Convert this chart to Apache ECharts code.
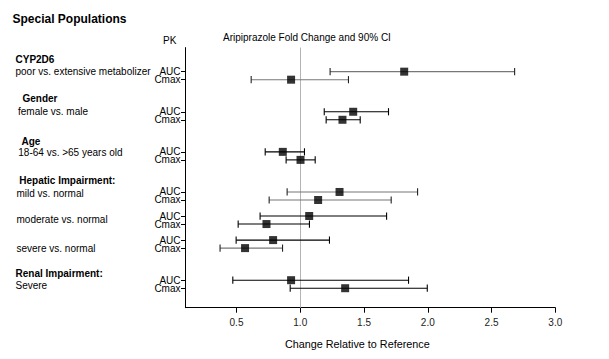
<!DOCTYPE html>
<html>
<head>
<meta charset="utf-8">
<script src="https://cdn.jsdelivr.net/npm/echarts@6/dist/echarts.min.js"></script>
<style>
html,body{margin:0;padding:0;background:#fff;}
#chart{width:609px;height:359px;}
</style>
</head>
<body>
<div id="chart"></div>
<script>
// ---- data ----
const groups = ['CYP2D6', 'Gender', 'Age', 'Hepatic Impairment:', 'Renal Impairment:'];
const comparisons = ['poor vs. extensive metabolizer', 'female vs. male', '18-64 vs. >65 years old',
  'mild vs. normal', 'moderate vs. normal', 'severe vs. normal', 'Severe'];
const yCategories = ['', '', '', 'AUC', 'Cmax', '', '', '', 'AUC', 'Cmax', '', '', '', 'AUC', 'Cmax',
  '', '', '', 'AUC', 'Cmax', '', 'AUC', 'Cmax', '', 'AUC', 'Cmax', '', '', '', 'AUC', 'Cmax', '', ''];
const foldChange = [1.815, 0.928, 1.415, 1.331, 0.863, 1.002, 1.308, 1.140, 1.070, 0.735, 0.787, 0.567, 0.928, 1.352];
const ciLower    = [1.234, 0.615, 1.188, 1.203, 0.725, 0.889, 0.897, 0.756, 0.685, 0.513, 0.497, 0.371, 0.471, 0.921];
const ciUpper    = [2.681, 1.378, 1.692, 1.470, 1.033, 1.117, 1.920, 1.713, 1.677, 1.072, 1.229, 0.861, 1.849, 1.996];
const xTicks = [0.5, 1.0, 1.5, 2.0, 2.5, 3.0];

// ---- style config ----
const mutedRows = [0, 1, 6, 7, 11];

const rowIdx = yCategories.map((c, i) => c ? i : -1).filter(i => i >= 0);
const aucIdx = rowIdx.filter(i => yCategories[i] === 'AUC');
const cmaxIdx = rowIdx.filter(i => yCategories[i] === 'Cmax');
const pointData = foldChange.map((v, i) => [v, rowIdx[i]]);
const ciData = ciLower.map((lo, i) => [lo, ciUpper[i], rowIdx[i]]);

const FONT = 'Liberation Sans, Arial, sans-serif';
function txt(text, x, y, size, bold, align) {
  return {
    type: 'text', x: x, y: y, silent: true,
    style: {
      text: text, fill: '#000', align: align || 'left', verticalAlign: 'middle',
      font: (bold ? 'bold ' : '') + size + 'px ' + FONT
    }
  };
}

const graphic = [
  txt('Special Populations', 12.5, 18.5, 12, true),
  txt('PK', 163, 40, 10, false),
  txt('Aripiprazole Fold Change and 90% CI', 223, 37.5, 10, false),
  txt('Change Relative to Reference', 285, 344, 10.8, false),
  txt(groups[0], 15.5, 59.5, 10, true),
  txt(comparisons[0], 15.5, 71.5, 10, false),
  txt(groups[1], 22.5, 98.5, 10, true),
  txt(comparisons[1], 18, 111, 10, false),
  txt(groups[2], 21.5, 141, 10, true),
  txt(comparisons[2], 18.3, 152.5, 10, false),
  txt(groups[3], 19.3, 180.5, 10, true),
  txt(comparisons[3], 16.5, 193, 10, false),
  txt(comparisons[4], 16.5, 219, 10, false),
  txt(comparisons[5], 16.5, 248, 10, false),
  txt(groups[4], 15.5, 273, 10, true),
  txt(comparisons[6], 15.5, 285, 10, false)
];

function yAx(ticks, showLine) {
  return {
    type: 'value', inverse: true, min: 0, max: 32.43, position: 'left',
    axisLine: {show: showLine, onZero: false, lineStyle: {color: '#000', width: 1}},
    axisTick: {show: true, length: 4.5, customValues: ticks, lineStyle: {color: '#000'}},
    axisLabel: {
      customValues: ticks, margin: 5, color: '#000', fontSize: 10, lineHeight: 7.5, fontFamily: FONT,
      hideOverlap: false,
      formatter: v => yCategories[Math.round(v)] || ''
    },
    splitLine: {show: false}
  };
}

const chart = echarts.init(document.getElementById('chart'), null, {renderer: 'svg'});
chart.setOption({
  backgroundColor: '#fff',
  animation: false,
  grid: {left: 185.5, right: 53.7, top: 47.6, bottom: 51.3, containLabel: false},
  xAxis: {
    type: 'value', min: 0.1, max: 3.0,
    axisLine: {show: true, onZero: false, lineStyle: {color: '#000', width: 1}},
    axisTick: {show: true, length: 5, customValues: xTicks, lineStyle: {color: '#000'}},
    axisLabel: {
      customValues: xTicks, margin: 10, color: '#222', fontSize: 10, fontFamily: FONT,
      formatter: v => v.toFixed(1)
    },
    splitLine: {show: false}
  },
  yAxis: [yAx(aucIdx, true), yAx(cmaxIdx, false)],
  graphic: graphic,
  series: [
    {
      type: 'custom',
      silent: true,
      data: ciData,
      yAxisIndex: 0,
      renderItem: function (params, api) {
        const lo = api.coord([api.value(0), api.value(2)]);
        const hi = api.coord([api.value(1), api.value(2)]);
        const muted = mutedRows.indexOf(params.dataIndex) >= 0;
        const lineColor = muted ? '#777' : '#000';
        const capColor = muted ? '#222' : '#000';
        const h = 3.6;
        return {
          type: 'group',
          children: [
            {type: 'line', shape: {x1: lo[0], y1: lo[1], x2: hi[0], y2: hi[1]}, style: {stroke: lineColor, lineWidth: 1.1}},
            {type: 'line', shape: {x1: lo[0], y1: lo[1] - h, x2: lo[0], y2: lo[1] + h}, style: {stroke: capColor, lineWidth: 1.1}},
            {type: 'line', shape: {x1: hi[0], y1: hi[1] - h, x2: hi[0], y2: hi[1] + h}, style: {stroke: capColor, lineWidth: 1.1}}
          ]
        };
      },
      z: 2
    },
    {
      type: 'scatter',
      data: pointData,
      yAxisIndex: 0,
      symbol: 'rect',
      symbolSize: 8,
      itemStyle: {color: '#000'},
      silent: true,
      z: 3,
      markLine: {
        silent: true,
        symbol: ['none', 'none'],
        label: {show: false},
        lineStyle: {color: '#b4b4b4', type: 'solid', width: 1},
        data: [{xAxis: 1.0}],
        z: 1
      }
    }
  ]
});
</script>
</body>
</html>
